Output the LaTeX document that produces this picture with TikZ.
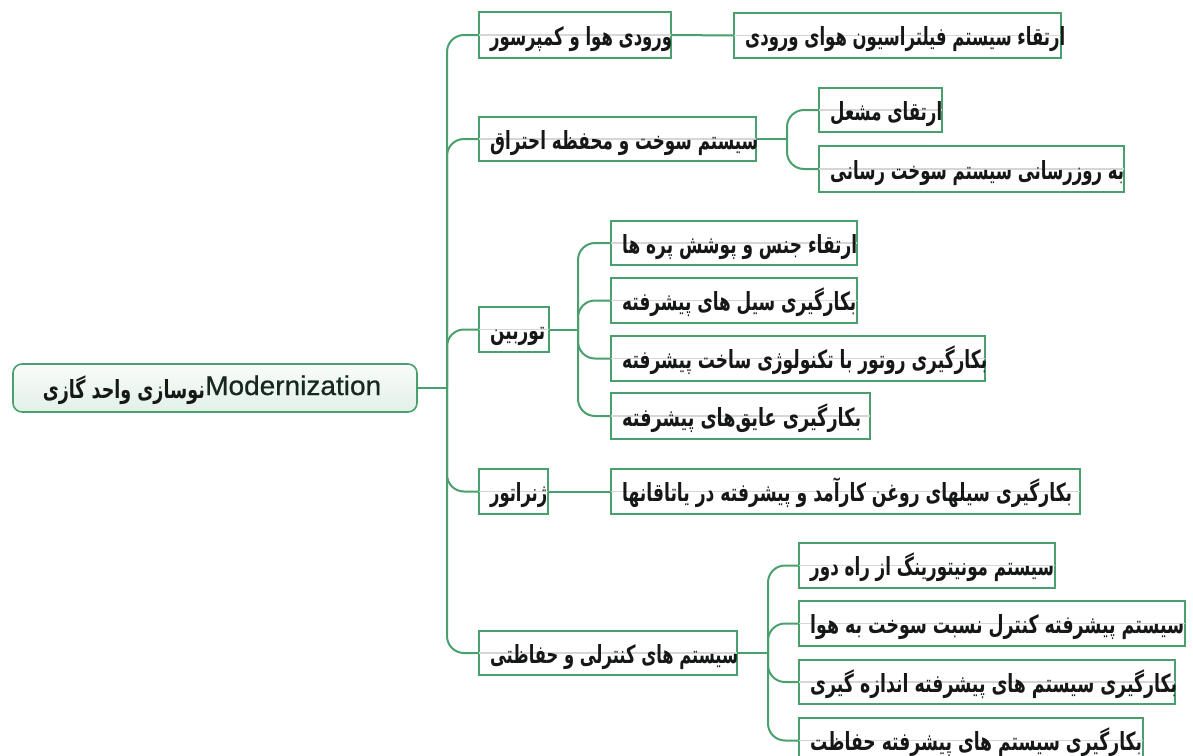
\documentclass[tikz,border=0pt]{standalone}
\usepackage{fontspec}
\usepackage{graphicx}
\setmainfont{Liberation Sans}
\newfontfamily\rootlatin[FakeBold=0.7]{Liberation Sans}
\newfontfamily\arabicfont[Script=Arabic]{DejaVu Sans}
\TeXXeTstate=1
\definecolor{mmgreen}{RGB}{74,160,108}
\definecolor{inktext}{RGB}{22,24,23}
\definecolor{rootink}{RGB}{22,40,32}

\tikzset{
  topic/.style={draw=mmgreen, line width=2pt, inner sep=0pt, rectangle},
  rootbox/.style={draw=mmgreen, line width=1.6pt, rounded corners=9pt, inner sep=0pt,
                  top color=white!60!mmgreen!8, bottom color=mmgreen!16},
  conn/.style={draw=mmgreen, line width=2pt, rounded corners=17pt},
  ghost/.style={draw=black!16, line width=1.6pt},
  fa/.style={inner sep=0pt, text=inktext, font=\arabicfont\bfseries\fontsize{25}{28}\selectfont},
}

% #1 name, #2-#5 box corners (x1,y1,x2,y2), #6 width of the caption, #7 caption (right to left)
\newcommand{\topicnode}[7]{%
  \node[topic, minimum width={(#4-#2)*1pt}, minimum height={(#5-#3)*1pt}]
       (#1) at ({(#2+#4)/2},{(#3+#5)/2}) {};
  \draw[ghost] ([xshift=1.2pt]#1.west) -- ([xshift=-1.2pt]#1.east);
  \node[fa, anchor=base west] (#1-t) at ({#2+11},{(#3+#5)/2+10})
       {\resizebox{#6pt}{\height}{#7}};
}

\begin{document}
\begin{tikzpicture}[x=1pt, y=-1pt]
\useasboundingbox (0,0) rectangle (1193,755);
\clip (0,0) rectangle (1193,755);

% central topic
\node[rootbox, minimum width=404pt, minimum height=48pt] (root) at (215,388) {};
\node[anchor=base west, inner sep=0pt, text=rootink, font=\rootlatin\fontsize{27}{30}\selectfont]
     (root-en) at (205,395) {\resizebox{176pt}{\height}{Modernization}};
\node[fa, anchor=base east] (root-fa) at (205,398)
     {\resizebox{162pt}{\height}{\beginR نوسازی واحد گازی\endR}};

% main topics
\topicnode{b1}{479}{12}{671}{58}{182}{\beginR ورودی هوا و کمپرسور\endR}
\topicnode{b2}{479}{117}{756}{161}{268}{\beginR سیستم سوخت و محفظه احتراق\endR}
\topicnode{b3}{479}{307}{549}{352}{55}{\beginR توربین\endR}
\topicnode{b4}{479}{469}{548}{514}{57}{\beginR ژنراتور\endR}
\topicnode{b5}{479}{631}{737}{675}{248}{\beginR سیستم های کنترلی و حفاظتی\endR}

% subtopics
\topicnode{l1}{734}{13}{1061}{58}{320}{\beginR ارتقاء سیستم فیلتراسیون هوای ورودی\endR}
\topicnode{l2a}{819}{88}{942}{132}{112}{\beginR ارتقای مشعل\endR}
\topicnode{l2b}{819}{146}{1124}{192}{294}{\beginR به روزرسانی سیستم سوخت رسانی\endR}
\topicnode{l3a}{611}{221}{857}{265}{235}{\beginR ارتقاء جنس و پوشش پره ها\endR}
\topicnode{l3b}{611}{278}{857}{323}{234}{\beginR بکارگیری سیل های پیشرفته\endR}
\topicnode{l3c}{611}{336}{985}{381}{365}{\beginR بکارگیری روتور با تکنولوژی ساخت پیشرفته\endR}
\topicnode{l3d}{611}{393}{870}{439}{239}{\beginR بکارگیری عایق‌های پیشرفته\endR}
\topicnode{l4}{611}{469}{1080}{514}{450}{\beginR بکارگیری سیلهای روغن کارآمد و پیشرفته در یاتاقانها\endR}
\topicnode{l5a}{799}{543}{1055}{588}{244}{\beginR سیستم مونیتورینگ از راه دور\endR}
\topicnode{l5b}{799}{601}{1185}{646}{374}{\beginR سیستم پیشرفته کنترل نسبت سوخت به هوا\endR}
\topicnode{l5c}{799}{660}{1175}{704}{367}{\beginR بکارگیری سیستم های پیشرفته اندازه گیری\endR}
\topicnode{l5d}{799}{718}{1143}{763}{332}{\beginR بکارگیری سیستم های پیشرفته حفاظت\endR}

% branching points
\coordinate (j0) at (447,388);
\coordinate (j2) at (787,139);
\coordinate (j3) at (578,329.5);
\coordinate (j5) at (768,653);

% connectors
\draw[conn] (root.east) -- (j0);
\foreach \n in {b1,b2,b3,b4,b5} \draw[conn] (j0) |- (\n.west);
\draw[conn] (b1.east) -- (l1.west);
\draw[conn] (b2.east) -- (j2);
\foreach \n in {l2a,l2b} \draw[conn] (j2) |- (\n.west);
\draw[conn] (b3.east) -- (j3);
\foreach \n in {l3a,l3b,l3c,l3d} \draw[conn] (j3) |- (\n.west);
\draw[conn] (b4.east) -- (l4.west);
\draw[conn] (b5.east) -- (j5);
\foreach \n in {l5a,l5b,l5c,l5d} \draw[conn] (j5) |- (\n.west);
\end{tikzpicture}
\end{document}
